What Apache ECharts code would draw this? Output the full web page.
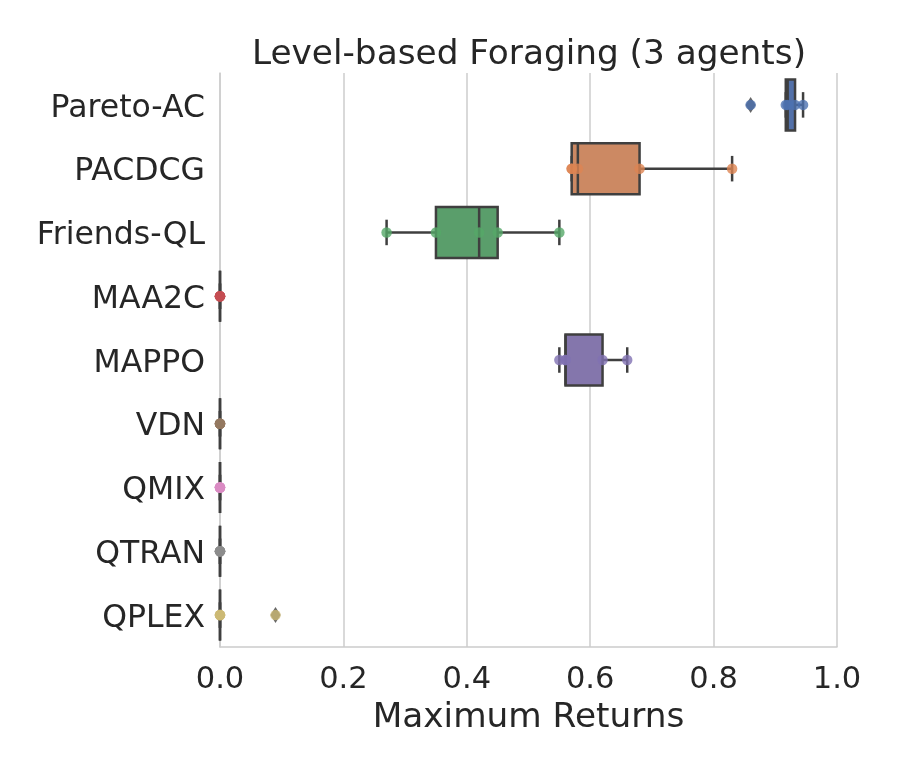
<!DOCTYPE html>
<html>
<head>
<meta charset="utf-8">
<script src="https://cdn.jsdelivr.net/npm/echarts@6/dist/echarts.min.js"></script>
<style>
html,body{margin:0;padding:0;background:#fff;}
#chart{width:900px;height:771px;}
</style>
</head>
<body>
<div id="chart"></div>
<script>
// ---- data ----
const categories = ['Pareto-AC','PACDCG','Friends-QL','MAA2C','MAPPO','VDN','QMIX','QTRAN','QPLEX'];
const paretoAC  = [0.86, 0.917, 0.92, 0.932, 0.945];
const pacdcg    = [0.57, 0.57, 0.58, 0.68, 0.83];
const friendsQL = [0.27, 0.35, 0.42, 0.45, 0.55];
const maa2c     = [0, 0, 0, 0, 0];
const mappo     = [0.55, 0.56, 0.56, 0.62, 0.66];
const vdn       = [0, 0, 0, 0, 0];
const qmix      = [0, 0, 0, 0, 0];
const qtran     = [0, 0, 0, 0, 0];
const qplex     = [0, 0, 0, 0, 0.09];
const xTicks    = [0, 0.2, 0.4, 0.6, 0.8, 1.0];

const seriesValues = [paretoAC, pacdcg, friendsQL, maa2c, mappo, vdn, qmix, qtran, qplex];
const pointColors = ['#4c72b0','#dd8452','#55a868','#c44e52','#8172b3','#937860','#da8bc3','#8c8c8c','#ccb974'];
const boxColors   = ['#5270a8','#cc8963','#5a9e6b','#b55d60','#8476ac','#8d7866','#d095bf','#8c8c8c','#c1b37f'];
const edgeColor = '#3f3f3f';
const textColor = '#262626';

function quantile(sorted, p) {
  const pos = (sorted.length - 1) * p;
  const lo = Math.floor(pos), hi = Math.ceil(pos);
  return sorted[lo] + (sorted[hi] - sorted[lo]) * (pos - lo);
}
const boxData = [], outliers = [], points = [];
seriesValues.forEach((vals, i) => {
  const s = vals.slice().sort((a, b) => a - b);
  const q1 = quantile(s, 0.25), med = quantile(s, 0.5), q3 = quantile(s, 0.75);
  const iqr = q3 - q1;
  const inside = s.filter(v => v >= q1 - 1.5 * iqr && v <= q3 + 1.5 * iqr);
  const lo = Math.min(...inside), hi = Math.max(...inside);
  boxData.push([i, lo, q1, med, q3, hi]);
  s.forEach(v => { if (v < q1 - 1.5 * iqr || v > q3 + 1.5 * iqr) outliers.push([v, i]); });
  vals.forEach(v => points.push({ value: [v, i], itemStyle: { color: pointColors[i] } }));
});

const chart = echarts.init(document.getElementById('chart'), null, { renderer: 'canvas' });
const font = 'DejaVu Sans';

chart.setOption({
  backgroundColor: '#ffffff',
  animation: false,
  title: {
    text: 'Level-based Foraging (3 agents)',
    left: 524, top: 33, textAlign: 'center',
    textStyle: { fontFamily: font, fontSize: 34.3, fontWeight: 'normal', color: textColor }
  },
  grid: { left: 220, right: 63, top: 73, bottom: 124 },
  xAxis: {
    type: 'value', min: 0, max: 1, interval: 0.2,
    name: 'Maximum Returns', nameLocation: 'middle', nameGap: 53,
    nameTextStyle: { fontFamily: font, fontSize: 34.3, color: textColor },
    axisLine: { show: true, lineStyle: { color: '#cccccc', width: 1.5 } },
    axisTick: { show: false },
    axisLabel: { fontFamily: font, fontSize: 30.5, color: textColor, margin: 18,
      formatter: v => xTicks.some(t => Math.abs(t - v) < 1e-9) ? v.toFixed(1) : '' },
    splitLine: { show: true, lineStyle: { color: '#cccccc', width: 1.5 } }
  },
  yAxis: {
    type: 'category', data: categories, inverse: true,
    axisLine: { show: true, lineStyle: { color: '#cccccc', width: 1.5 } },
    axisTick: { show: false },
    axisLabel: {
      margin: 15,
      formatter: v => '{c|' + v + '}',
      rich: { c: { fontFamily: font, fontSize: 31.5, color: textColor, padding: [7, 0, 0, 0] } }
    },
    splitLine: { show: false }
  },
  series: [
    {
      type: 'custom',
      z: 2,
      data: boxData,
      encode: { x: [1, 2, 3, 4, 5], y: 0 },
      renderItem: function (params, api) {
        const idx = api.value(0);
        const yc = api.coord([0, idx])[1];
        const band = api.size([0, 1])[1];
        const h = band * 0.8, cap = h / 2;
        const x = v => api.coord([v, idx])[0];
        const xLo = x(api.value(1)), xQ1 = x(api.value(2)), xMed = x(api.value(3)),
              xQ3 = x(api.value(4)), xHi = x(api.value(5));
        const ls = { stroke: edgeColor, lineWidth: 2.5 };
        return {
          type: 'group',
          children: [
            { type: 'line', shape: { x1: xLo, y1: yc, x2: xQ1, y2: yc }, style: ls },
            { type: 'line', shape: { x1: xQ3, y1: yc, x2: xHi, y2: yc }, style: ls },
            { type: 'line', shape: { x1: xLo, y1: yc - cap / 2, x2: xLo, y2: yc + cap / 2 }, style: ls },
            { type: 'line', shape: { x1: xHi, y1: yc - cap / 2, x2: xHi, y2: yc + cap / 2 }, style: ls },
            { type: 'rect', shape: { x: xQ1, y: yc - h / 2, width: xQ3 - xQ1, height: h },
              style: { fill: boxColors[idx], stroke: edgeColor, lineWidth: 2.5 } },
            { type: 'line', shape: { x1: xMed, y1: yc - h / 2, x2: xMed, y2: yc + h / 2 }, style: ls }
          ]
        };
      }
    },
    {
      type: 'scatter', z: 3,
      symbol: 'diamond', symbolSize: [10, 16],
      itemStyle: { color: edgeColor },
      data: outliers
    },
    {
      type: 'scatter', z: 4,
      symbol: 'circle', symbolSize: 10.5,
      data: points
    }
  ]
});
</script>
</body>
</html>
